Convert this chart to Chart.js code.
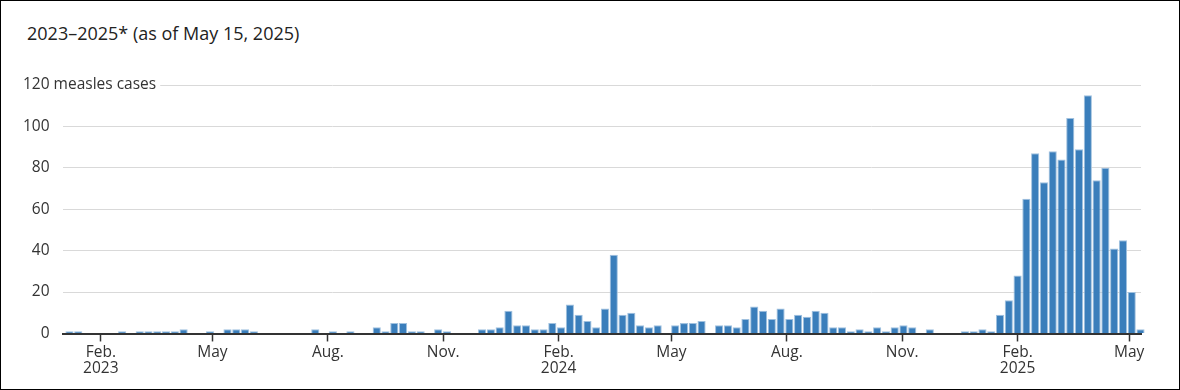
<!DOCTYPE html>
<html>
<head>
<meta charset="utf-8">
<script src="https://cdn.jsdelivr.net/npm/chart.js@4.4.1/dist/chart.umd.min.js"></script>
<style>
	html, body { margin: 0; padding: 0; background: #fff; }
	#frame { position: relative; width: 1180px; height: 390px; box-sizing: border-box; border: 1px solid #000; background: #fff; }
	#title { position: absolute; left: 26px; top: 22px; font-family: "Open Sans", sans-serif; font-size: 18px; line-height: 20px; color: #222; white-space: nowrap; }
	#chartBox { position: absolute; left: 0; top: 0; width: 1178px; height: 388px; }
</style>
</head>
<body>
<div id="frame">
	<div id="title">2023–2025* (as of May 15, 2025)</div>
	<div id="chartBox"><canvas id="casesChart" width="1178" height="388"></canvas></div>
</div>
<script>
	// Weekly measles cases, one bar per week (week ending Saturday)
	var axisStart = '2023-01-01';
	var firstWeekEnding = '2023-01-07';
	var weeklyCases = [
		1, 1, 0, 0, 0, 0, 1, 0, 1, 1, 1, 1, 1, 2, 0, 0, 1, 0, 2, 2,
		2, 1, 0, 0, 0, 0, 0, 0, 2, 0, 1, 0, 1, 0, 0, 3, 1, 5, 5, 1,
		1, 0, 2, 1, 0, 0, 0, 2, 2, 3, 11, 4, 4, 2, 2, 5, 3, 14, 9, 6,
		3, 12, 38, 9, 10, 4, 3, 4, 0, 4, 5, 5, 6, 0, 4, 4, 3, 7, 13, 11,
		7, 12, 7, 9, 8, 11, 10, 3, 3, 1, 2, 1, 3, 1, 3, 4, 3, 0, 2, 0,
		0, 0, 1, 1, 2, 1, 9, 16, 28, 65, 87, 73, 88, 84, 104, 89, 115, 74, 80, 41,
		45, 20, 2
	];

	// X axis ticks (first of month) and their labels
	var tickDates = ['2023-02-01', '2023-05-01', '2023-08-01', '2023-11-01', '2024-02-01',
		'2024-05-01', '2024-08-01', '2024-11-01', '2025-02-01', '2025-05-01'];
	var tickLabels = [['Feb.', '2023'], 'May', 'Aug.', 'Nov.', ['Feb.', '2024'],
		'May', 'Aug.', 'Nov.', ['Feb.', '2025'], 'May'];

	// Y axis
	var yTicks = [0, 20, 40, 60, 80, 100, 120];
	var yMax = 120;
	var yTopLabel = '120 measles cases';

	var FONT = '"Open Sans", sans-serif';
	var TEXT = '#333';

	function dayNum(s) {
		return (Date.parse(s) - Date.parse(axisStart)) / 86400000;
	}

	var firstDay = dayNum(firstWeekEnding);
	var barPoints = weeklyCases.map(function (v, i) {
		return { x: firstDay + 7 * i, y: v };
	});
	var tickDays = tickDates.map(dayNum);

	// "120 measles cases" sits on the top gridline, left aligned with the tick labels
	var topLabelPlugin = {
		id: 'topLabel',
		afterDraw: function (chart) {
			var ctx = chart.ctx;
			var area = chart.chartArea;
			var py = chart.scales.y.getPixelForValue(yMax);
			ctx.save();
			ctx.font = '15.5px ' + FONT;
			var x0 = area.left - 13 - ctx.measureText(String(yMax)).width;
			var w = ctx.measureText(yTopLabel).width;
			ctx.fillStyle = '#fff';
			ctx.fillRect(area.left - 1, py - 2, x0 + w + 5 - area.left, 4);
			ctx.fillStyle = TEXT;
			ctx.textBaseline = 'middle';
			ctx.fillText(yTopLabel, x0, py);
			ctx.restore();
		}
	};

	var casesChart = new Chart(document.getElementById('casesChart'), {
		type: 'bar',
		data: {
			datasets: [{
				data: barPoints,
				backgroundColor: '#3a7ebb',
				borderColor: '#a0c1df',
				borderWidth: 1,
				barPercentage: 0.93,
				categoryPercentage: 1,
				clip: false
			}]
		},
		options: {
			responsive: false,
			animation: false,
			layout: { padding: { left: 9, right: 38, top: 84, bottom: 9 } },
			plugins: {
				legend: { display: false },
				tooltip: { enabled: false }
			},
			scales: {
				x: {
					type: 'linear',
					min: 0.5,
					max: 860.4,
					offset: false,
					afterBuildTicks: function (scale) {
						scale.ticks = tickDays.map(function (d) { return { value: d }; });
					},
					afterFit: function (scale) {
						// labels fit inside the plot, no extra side padding
						scale.paddingLeft = 0;
						scale.paddingRight = 0;
					},
					grid: {
						display: true,
						offset: false,
						drawOnChartArea: false,
						drawTicks: true,
						tickLength: 7,
						tickColor: TEXT,
						tickWidth: 1.5
					},
					// baseline drawn over the bars' foot, bars sit on top of it
					border: { display: true, color: TEXT, width: 2, z: 1 },
					ticks: {
						autoSkip: false,
						maxRotation: 0,
						padding: 3,
						color: TEXT,
						font: { family: FONT, size: 15.5, lineHeight: 1.05 },
						callback: function (value, index) {
							return tickLabels[index];
						}
					}
				},
				y: {
					min: -0.5,
					max: yMax,
					afterBuildTicks: function (scale) {
						scale.ticks = yTicks.map(function (v) { return { value: v }; });
					},
					grid: { color: '#d9d9d9', drawTicks: false },
					border: { display: false },
					ticks: {
						padding: 13,
						color: TEXT,
						font: { family: FONT, size: 15.5 },
						callback: function (value) {
							return value === yMax ? '' : value;
						}
					}
				}
			}
		},
		plugins: [topLabelPlugin]
	});
</script>
</body>
</html>
